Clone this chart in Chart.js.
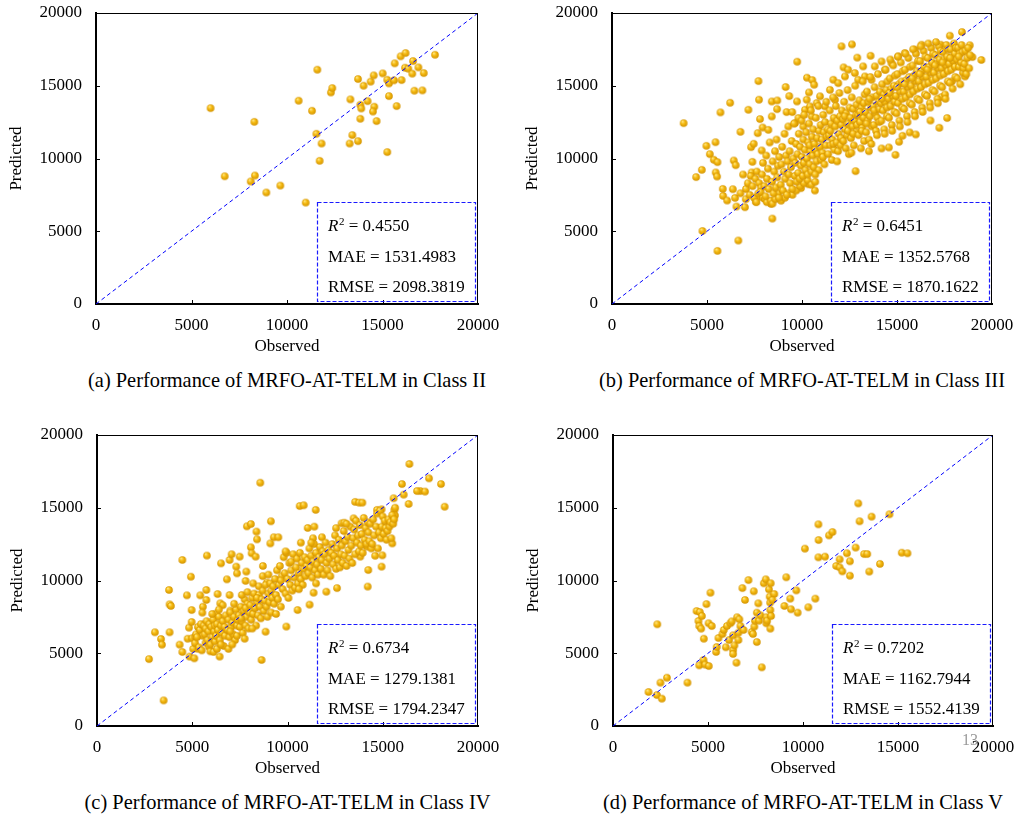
<!DOCTYPE html>
<html><head><meta charset="utf-8">
<script src="https://cdn.jsdelivr.net/npm/chart.js@4"></script>
<style>
body{margin:0;background:#fff;width:1016px;height:815px;position:relative;overflow:hidden;font-family:"Liberation Serif","Times New Roman",serif;}
.panel{position:absolute;width:500px;height:360px;}
.cap{position:absolute;font-size:20.4px;line-height:24px;white-space:nowrap;transform:translateX(-50%);color:#000;}
.pg{position:absolute;left:962px;top:731px;font-size:16px;color:#9a9a9a;}
</style></head><body>
<div class="panel" style="left:0;top:0"><canvas id="cA" width="500" height="360"></canvas></div>
<div class="panel" style="left:516px;top:0"><canvas id="cB" width="500" height="360"></canvas></div>
<div class="panel" style="left:1px;top:422px"><canvas id="cC" width="500" height="360"></canvas></div>
<div class="panel" style="left:517px;top:422px"><canvas id="cD" width="500" height="360"></canvas></div>
<div class="cap" id="capA" style="left:287px;top:368px"></div>
<div class="cap" id="capB" style="left:802px;top:368px"></div>
<div class="cap" id="capC" style="left:287.5px;top:790px"></div>
<div class="cap" id="capD" style="left:803px;top:790px"></div>
<div class="pg">13</div>
<script>
const axisTicks = [0, 5000, 10000, 15000, 20000];
const diagonal = [0, 20000];
const captions = [
  "(a) Performance of MRFO-AT-TELM in Class II",
  "(b) Performance of MRFO-AT-TELM in Class III",
  "(c) Performance of MRFO-AT-TELM in Class IV",
  "(d) Performance of MRFO-AT-TELM in Class V"
];
const metricsII  = ["0.4550", "1531.4983", "2098.3819"];
const metricsIII = ["0.6451", "1352.5768", "1870.1622"];
const metricsIV  = ["0.6734", "1279.1381", "1794.2347"];
const metricsV   = ["0.7202", "1162.7944", "1552.4139"];

// [Observed, Predicted]
const classII = [[6000,13460],[6740,8780],[8290,12520],[8320,8830],[8100,8420],[8920,7660],[9650,8140],[10610,13970],[10980,6970],[11310,13280],[11590,16100],[11540,11700],[11810,11030],[11710,9840],[12300,14540],[12370,14840],[13320,14060],[13280,11030],[13420,11610],[13720,15460],[13840,13690],[13890,13440],[13840,12730],[13720,11190],[14010,15000],[14220,13940],[14380,15280],[14540,15710],[14570,13560],[14500,13230],[14690,12570],[15010,15850],[15250,15410],[15340,15160],[15340,14290],[15250,10440],[15600,15370],[15640,16540],[15740,13600],[15950,17020],[16000,15390],[16210,17250],[16180,16240],[16350,16170],[16600,16700],[16560,15830],[16670,14660],[16880,16260],[17090,14680],[17160,15870],[17750,17130]];

const classIII = [
[3770,12430],[4430,8720],[4730,9220],[4760,5020],[4970,10870],[5150,10300],[5360,9910],[5450,11120],[5460,9040],[5550,9750],[5530,8760],[5550,3650],[5710,13170],[5830,7910],[5850,7430],[6060,7110],[6220,13830],[6360,7890],[6410,9860],[6510,9540],[6480,7290],[6550,6700],[6650,4360],[6760,11830],[6760,7610],[6900,8900],[7000,6650],[7040,7200],[7180,13350],[7320,10780],[7350,9040],[7390,9770],[7460,11010],[7570,7020],[7640,7340],[7670,11740],[7710,15320],[7740,14040],[7790,12710],[7880,10550],[7930,12130],[8230,11970],[8410,13920],[8410,12890],[8370,7060],[8370,6880],[8440,5870],[8700,13990],[8690,13390],[9140,14910],[9190,13190],[9490,13190],[9750,16650],[9740,13920],[10260,15550],[10540,15390],[10370,14540],[10640,15070],[10680,7800],[10340,8230],[9950,7960],[12080,17710],[12630,17840],[12190,16260],[12910,16930],[13610,17060],[12820,9130],[13520,10500],[14190,10690],[14570,10760],[14920,10250],[15110,11150],[15290,11560],[15670,11790],[15990,11650],[16290,17820],[16760,12610],[17230,12110],[17300,17820],[17640,12780],[17780,18440],[18420,18690],[18830,17780],[18970,16970],[19440,16770],[18510,16330],[18580,15640],[17890,15300],[17340,14220],
[9330,14290],[9630,12430],[9810,12780],[10070,12200],[10160,13350],[10250,14040],[10420,13580],[10510,12890],[10770,13810],[10950,14270],[11210,13580],[11470,14720],[11650,15410],[11740,14040],[11910,15180],[12260,15640],[12430,16100],[12780,15870],[12960,15410],[13220,16330],[13310,15640],[13660,15410],[13830,16330],[14190,16670],[14360,16100],[14710,16560],[15060,17020],[15410,17250],[15940,17480],
[7050,7900],[7150,8300],[7250,7500],[7300,8800],[7400,8100],[7480,7300],[7550,8600],[7620,9100],[7700,7600],[7750,8300],[7600,7000],[7850,8000],[7950,7300],[8050,7200],[8150,7000],[8350,7100],[8450,6900],[8600,7200],[8750,7600],[8900,7100],[9100,7300],[9300,7600],[9500,7500],[9700,7800],[9900,8100],[10100,8300],[10300,8500],[10500,8200],[10700,8400],
[7820,7700],[7900,8900],[7950,9700],[8020,8100],[8080,7400],[8120,10200],[8160,8600],[8210,9300],[8250,7900],[8300,11100],
[8420,8400],[8460,9800],[8500,7600],[8540,9100],[8580,10500],[8620,8000],[8660,11300],[8700,8700],[8740,9500],[8780,7300],[8800,10100],
[8880,8200],[8920,9600],[8960,10800],[9000,7800],[9040,9100],[9080,11700],[9120,8600],[9160,10200],[9200,7500],[9240,9800],[9280,12200],[9300,8900],
[9350,10500],[9380,8300],[9420,9400],[9460,11200],[9500,7900],[9540,10000],[9580,12400],[9620,8800],[9650,9700],[9700,11000],[9720,8400],
[9760,10300],[9800,9000],[9830,11700],[9870,8600],[9900,10800],[9940,9500],[9980,12600],[10000,10100],[10040,8800],[10070,11300],[10100,9700],[10120,13000],
[10150,10600],[10180,9200],[10220,11800],[10260,10000],[10300,8900],[10330,11100],[10370,12400],[10400,9600],[10440,10500],[10470,13300],[10500,9100],[10520,11500],[10400,10900],
[10560,10200],[10590,12000],[10620,9400],[10660,11000],[10700,10600],[10730,12800],[10760,9800],[10800,11400],[10830,10300],[10860,13600],[10880,9200],[10900,11900],[10700,8900],
[10950,10800],[10980,12300],[11010,9900],[11050,11300],[11080,10400],[11120,13000],[11150,11800],[11180,9600],[11220,12500],[11250,10900],[11280,13900],[11300,11500],[11100,10100],
[11350,12000],[11380,10300],[11420,11600],[11460,13300],[11500,10900],[11530,12400],[11570,9900],[11600,11300],[11640,14200],[11670,12800],[11700,10600],[11500,11900],[11650,11000],
[11750,12200],[11780,13600],[11820,11100],[11860,12600],[11900,10500],[11930,11700],[11970,14500],[12000,12900],[12030,10900],[12070,12300],[12100,13300],[11850,9800],[12050,11400],
[12150,12700],[12180,11200],[12220,13900],[12260,12000],[12300,10700],[12330,13100],[12370,11600],[12400,14700],[12440,12400],[12470,10300],[12500,13500],[12250,12900],[12420,11900],
[12550,12800],[12580,11400],[12620,14200],[12660,12200],[12700,13400],[12730,10900],[12770,12600],[12800,15000],[12840,11800],[12870,13700],[12900,12300],[12600,10400],[12850,13000],[12700,11700],
[12950,13000],[12980,11600],[13020,14000],[13060,12500],[13100,10700],[13130,13500],[13170,12100],[13200,15300],[13240,12800],[13270,11200],[13300,14400],[13050,13200],[13250,13800],[13150,11900],
[13350,13200],[13380,11800],[13420,14600],[13460,12600],[13500,13900],[13530,11300],[13570,12900],[13600,15600],[13640,13500],[13670,12200],[13700,14200],[13400,12400],[13550,14100],[13650,11000],
[13750,13600],[13780,12300],[13820,14900],[13860,13100],[13900,11900],[13930,14300],[13970,12800],[14000,15800],[14040,13900],[14070,12500],[14100,14600],[13800,13300],[13950,11600],[14080,13400],
[14150,13800],[14180,12600],[14220,15100],[14260,13300],[14300,14400],[14330,12000],[14370,13900],[14400,16100],[14440,14700],[14470,12900],[14500,15300],[14200,14100],[14350,11700],[14480,13500],
[14550,14100],[14580,12800],[14620,15500],[14660,13600],[14700,14800],[14730,12300],[14770,14300],[14800,16400],[14840,15000],[14870,13200],[14900,15700],[14600,14500],[14750,11900],[14880,13900],[14650,16800],
[14950,14300],[14980,13100],[15020,15800],[15060,13800],[15100,15100],[15130,12600],[15170,14600],[15200,16600],[15240,15300],[15270,13500],[15300,16000],[15000,14900],[15150,12200],[15280,14100],[15050,17000],
[15350,14600],[15380,13400],[15420,16100],[15460,14200],[15500,15400],[15530,12900],[15570,14900],[15600,16900],[15640,15600],[15670,13800],[15700,16300],[15400,15100],[15550,12500],[15680,14400],[15450,17200],
[15750,15000],[15780,13700],[15820,16400],[15860,14600],[15900,15700],[15930,13200],[15970,15300],[16000,17200],[16040,16000],[16070,14100],[16100,16700],[15800,15500],[15950,12900],[16080,14800],[15850,17500],
[16150,15300],[16180,14000],[16220,16700],[16260,14900],[16300,16000],[16330,13500],[16370,15600],[16400,17400],[16440,16300],[16470,14400],[16500,17000],[16200,15800],[16350,13200],[16480,15100],[16250,17700],
[16550,15600],[16580,14300],[16620,16900],[16660,15200],[16700,16300],[16730,13800],[16770,15900],[16800,17600],[16840,16600],[16870,14700],[16900,17200],[16600,16100],[16750,13500],[16880,15400],[16650,17900],
[16950,15900],[16980,14600],[17020,17100],[17060,15500],[17100,16500],[17130,14100],[17170,16200],[17200,17700],[17240,16800],[17270,15000],[17300,17400],[17000,16400],[17150,13800],[17280,15700],[17050,18000],
[17350,16200],[17380,14900],[17420,17300],[17460,15800],[17500,16800],[17530,14400],[17570,16400],[17600,17800],[17640,17000],[17670,15300],[17700,17500],[17400,16600],[17550,14100],[17680,16000],
[17750,16500],[17780,15200],[17820,17500],[17860,16100],[17900,17000],[17930,14800],[17970,16700],[18000,17900],[18040,17200],[18070,15600],[18100,17600],[17800,16900],[18050,16300],
[18150,16800],[18180,15500],[18220,17600],[18260,16300],[18300,17200],[18330,15100],[18370,16600],[18400,17800],[18440,17300],[18470,15900],[18500,16200],[18250,17000],
[18550,16500],[18600,17400],[18650,15800],[18700,16900],[18750,17600],[18800,16200],[18850,17100]
];

const classIV = [
[2730,4600],[3040,6440],[3360,5980],[3410,5590],[3500,1760],[3780,9350],[3810,8360],[3880,8250],[3810,6440],[4340,5590],[4480,11410],[4480,5090],[4720,8980],[4930,10260],[4970,7970],[4860,4770],[4830,6760],[4970,7150],[4760,6000],[5000,6030],[5160,6140],[5110,4650],[5280,5310],[5420,8980],[5560,8200],[5530,7790],[5740,9350],[5770,11710],[5740,8660],[5640,7010],[5600,6410],[5700,5720],[5880,5450],[5950,5130],[6120,5090],[6330,9070],[6440,4770],[6470,8430],[6510,11180],[6260,7740],[6960,11410],[7070,11800],[6960,9000],[7000,7930],[6820,10080],[7490,11640],[7310,10950],[7350,10490],[7870,13720],[8080,13880],[7840,10610],[7800,9970],[8080,12280],[8120,11870],[8330,11640],[8370,13360],[8400,12830],[8570,16720],[8710,11000],[8640,4540],[8850,6480],[9130,14070],[8920,9850],[9280,12970],[9520,12970],[9100,12550],[9940,6830],[10530,7970],[10640,15120],[10850,15170],[11480,14850],[11060,13610],[11410,13700],[11160,8340],[11370,9160],[11340,12900],[11810,12970],[12040,9230],[12600,9480],[12840,13930],[12980,13970],[13550,15400],[13760,15350],[13930,15350],[13470,14270],[13820,11640],[14210,9580],[14240,10720],[14170,12330],[14700,14850],[14940,14890],[14940,10950],[14980,11730],[15500,12550],[15570,15650],[15610,14850],[15640,14480],[15330,13970],[16010,16630],[16100,15900],[16360,15260],[16400,18010],[16970,16150],[17220,16110],[17430,17020],[18060,16630],[18250,15070],[16800,16150],
[5050,5300],[5150,5700],[5200,6300],[5300,6800],[5350,5400],[5400,6600],[5450,7000],[5500,5200],[5550,6200],[5600,6900],[5250,6100],
[5650,6300],[5700,6700],[5750,7200],[5800,5900],[5850,6500],[5900,7000],[5950,5600],[6000,6800],[6050,6100],[6100,7300],[6150,6500],[6200,5800],[6050,7700],[6180,6900],
[6250,6200],[6300,7000],[6350,6600],[6400,7500],[6450,5900],[6500,6900],[6550,6400],[6600,7200],[6650,5500],[6700,6800],[6750,7600],[6300,5300],[6600,8300],[6720,6200],[6400,8000],[6500,5600],
[6850,6600],[6900,7300],[6950,6100],[7000,7800],[7050,6800],[7100,7100],[7150,6300],[7200,7500],[7250,5900],[7300,8000],[7350,6900],[7400,7300],[6900,5300],[7100,5600],[7200,8400],[7350,6200],[7000,6500],
[7450,7600],[7500,6800],[7550,8200],[7600,7200],[7650,6400],[7700,7900],[7750,8700],[7800,6900],[7850,7500],[7900,8400],[7950,6700],[8000,7800],[7600,9000],[7750,6000],[7900,9200],[7550,7400],[7800,8100],
[8050,8300],[8100,7300],[8150,8800],[8200,7700],[8250,9100],[8300,8100],[8350,6900],[8400,8500],[8450,7600],[8500,9000],[8550,8200],[8600,7400],[8200,9800],[8400,8800],[8150,6700],[8500,9600],
[8650,8700],[8700,9300],[8750,7900],[8800,8600],[8850,9700],[8900,8200],[8950,7500],[9000,9100],[9050,8500],[9100,9800],[9150,7800],[9200,8800],[8700,10300],[9000,10400],[9150,9300],
[9250,9600],[9300,8400],[9350,10100],[9400,9000],[9450,10700],[9500,8700],[9550,9700],[9600,11000],[9650,8200],[9700,10300],[9750,9400],[9800,11600],[9400,7700],[9650,10000],
[9850,10500],[9900,9100],[9950,11900],[10000,10100],[10050,8800],[10100,11200],[10150,9700],[10200,10700],[10250,9300],[10300,11800],[10350,10200],[10400,9500],[9900,12000],[10200,11300],
[10450,10900],[10500,11500],[10550,9800],[10600,10500],[10650,11900],[10700,10100],[10750,11200],[10800,9700],[10850,10800],[10900,11600],[10950,10300],[11000,11000],[10700,12600],[10600,9400],
[11050,11400],[11100,10500],[11150,12200],[11200,10900],[11250,11700],[11300,10200],[11350,11300],[11400,12500],[11450,10700],[11500,11900],[11550,11100],[11600,10400],[11250,12600],[11500,9800],
[11650,11600],[11700,12300],[11750,10800],[11800,11400],[11850,12000],[11900,10400],[11950,11800],[12000,12600],[12050,11200],[12100,10700],[12150,12100],[12200,11500],
[12250,10300],[12300,11900],[12350,12500],[12400,11100],[12450,11700],[12500,13100],[12550,10800],[12600,12200],[12650,11400],[12700,12800],[12750,10900],[12800,11800],[12550,13600],
[12850,12400],[12900,11200],[12950,13400],[13000,11700],[13050,12700],[13100,11000],[13150,13000],[13200,12100],[13250,11500],[13300,13700],[13350,12400],[13400,11200],[13100,13900],
[13450,12900],[13500,13500],[13550,11800],[13600,14100],[13650,12600],[13700,13100],[13750,12000],[13800,13800],[13850,12400],[13900,13200],[13950,11900],[14000,14300],
[14050,12800],[14100,13600],[14150,12500],[14200,14000],[14250,13300],[14300,12700],[14350,13900],[14400,12200],[14450,12500],[14500,14200],[14550,13100],[14600,11700],
[14650,13700],[14700,14600],[14750,12200],[14800,13300],[14850,14800],[14900,12900],[14950,13700],[15000,14400],[15050,13200],[15100,14100],[15150,13600],[15200,12800],
[15250,13400],[15300,14200],[15350,13700],[15400,14000],[15450,12900],[15500,14500],[15550,13900],[15600,14200],[15650,15000]
];

const classV = [[1870,2340],[2310,2130],[2330,6990],[2500,2980],[2570,1880],[2840,3320],[3920,2980],[4400,7900],[4570,7830],[4500,7220],[4540,6870],[4640,6690],[4680,7560],[4780,6000],[4920,8380],[4540,4170],[4760,4540],[4850,4220],[5040,4120],[5030,7060],[5130,9160],[5200,6870],[5430,5090],[5460,5430],[5550,6050],[5760,6320],[5830,6600],[5940,5410],[6000,6870],[6110,5910],[6180,7060],[6250,7190],[6320,6230],[6320,5220],[6320,4950],[6390,5540],[6500,4350],[6530,7470],[6600,6410],[6600,5910],[6650,7330],[6710,6870],[6810,9480],[6870,6600],[6950,8660],[7130,10030],[7300,6460],[7370,6320],[7410,9260],[7440,6830],[7470,7240],[7570,7790],[7570,5770],[7650,8430],[7690,7240],[7760,7610],[7830,4030],[7940,9810],[8040,10080],[8070,7470],[8070,7060],[8110,7240],[8210,9390],[8250,8890],[8270,8480],[8300,9810],[8280,7970],[8320,7560],[8280,6690],[8490,9070],[8390,8660],[9020,8250],[9120,10220],[9330,8750],[9370,8020],[9650,9320],[9720,7790],[10100,12190],[10280,8160],[10650,8750],[10810,13860],[10820,12780],[10810,11590],[11160,11640],[11370,13100],[11550,13330],[11750,11000],[11930,11450],[11930,10900],[12070,10630],[12310,11870],[12470,11320],[12470,10330],[12770,12260],[12910,15300],[12980,14070],[13220,11820],[13380,11820],[13490,10610],[13610,14390],[14050,11140],[14550,14550],[15200,11910],[15500,11870]];

Chart.defaults.font.family = '"Liberation Serif", "Times New Roman", serif';
Chart.defaults.color = '#000';

function makeBall(r) {
  const s = 10, c = document.createElement('canvas');
  c.width = s; c.height = s;
  const g = c.getContext('2d'), cx = s / 2, cy = s / 2;
  const gr = g.createRadialGradient(cx - r * 0.35, cy - r * 0.45, r * 0.1, cx, cy, r);
  gr.addColorStop(0, '#FFE680');
  gr.addColorStop(0.45, '#F5BA10');
  gr.addColorStop(1, '#D39300');
  g.fillStyle = gr;
  g.beginPath(); g.arc(cx, cy, r, 0, Math.PI * 2); g.fill();
  return c;
}
const ball = makeBall(3.8);

const framePlugin = {
  id: 'frame',
  afterDraw(chart) {
    const a = chart.chartArea, ctx = chart.ctx;
    const xs = chart.scales.x, ys = chart.scales.y;
    const m = chart.options.plugins.frame.metrics;
    ctx.save();
    ctx.strokeStyle = '#000'; ctx.lineWidth = 1;
    ctx.beginPath();
    ctx.moveTo(a.left, a.top + 0.5); ctx.lineTo(a.right, a.top + 0.5);
    ctx.moveTo(a.right - 0.5, a.top); ctx.lineTo(a.right - 0.5, a.bottom);
    axisTicks.slice(1, -1).forEach(v => {
      const px = Math.round(xs.getPixelForValue(v)) + 0.5;
      ctx.moveTo(px, a.bottom); ctx.lineTo(px, a.bottom - 4);
      const py = Math.round(ys.getPixelForValue(v)) + 0.5;
      ctx.moveTo(a.left, py); ctx.lineTo(a.left + 4, py);
    });
    ctx.stroke();
    // statistics box
    const w = 158, h = 99, L = Math.round(a.right - 3 - w), T = Math.round(a.bottom - 3 - h);
    ctx.beginPath();
    ctx.strokeStyle = '#1a1aff'; ctx.lineWidth = 1.2; ctx.setLineDash([4, 2]);
    ctx.rect(L + 0.5, T + 0.5, w, h);
    ctx.stroke();
    ctx.setLineDash([]);
    ctx.fillStyle = '#000'; ctx.textBaseline = 'alphabetic'; ctx.textAlign = 'left';
    const fam = '"Liberation Serif", "Times New Roman", serif';
    let x = L + 11; const y = T + 29;
    ctx.font = 'italic 17px ' + fam; ctx.fillText('R', x, y); x += ctx.measureText('R').width;
    ctx.font = '11px ' + fam; ctx.fillText('2', x + 0.5, y - 6); x += ctx.measureText('2').width + 0.5;
    ctx.font = '17px ' + fam; ctx.fillText(' = ' + m[0], x, y);
    ctx.fillText('MAE = ' + m[1], L + 11, T + 60);
    ctx.fillText('RMSE = ' + m[2], L + 11, T + 90);
    ctx.restore();
  }
};

function buildChart(id, points, metrics, rightPad) {
  const tickFont = { size: 17 };
  return new Chart(document.getElementById(id), {
    type: 'scatter',
    data: {
      datasets: [
        { type: 'line', data: diagonal.map(v => ({ x: v, y: v })), borderColor: '#0000FF', borderWidth: 1, borderDash: [4, 3], pointRadius: 0, fill: false, order: 0 },
        { data: points.map(([x, y]) => ({ x, y })), pointStyle: ball, pointRadius: 4, order: 1 }
      ]
    },
    options: {
      responsive: false, animation: false, events: [],
      layout: { autoPadding: false, padding: { top: 13, right: rightPad, left: 0, bottom: 0 } },
      plugins: { legend: { display: false }, tooltip: { enabled: false }, frame: { metrics } },
      scales: {
        x: {
          type: 'linear', min: 0, max: 20000,
          afterBuildTicks: s => { s.ticks = axisTicks.map(v => ({ value: v })); },
          ticks: { autoSkip: false, maxRotation: 0, font: tickFont, color: '#000', padding: 11, callback: v => String(v) },
          grid: { display: false, drawTicks: false },
          border: { display: true, color: '#000', width: 2 },
          title: { display: true, text: 'Observed', font: { size: 17 }, color: '#000', padding: { top: 0, bottom: 3 } },
          afterFit: s => { s.height = 56; s.paddingLeft = 0; s.paddingRight = 0; }
        },
        y: {
          type: 'linear', min: 0, max: 20000,
          afterBuildTicks: s => { s.ticks = axisTicks.map(v => ({ value: v })); },
          ticks: { autoSkip: false, font: tickFont, color: '#000', padding: 14, callback: v => String(v) },
          grid: { display: false, drawTicks: false },
          border: { display: true, color: '#000', width: 2 },
          title: { display: true, text: 'Predicted', font: { size: 17 }, color: '#000', padding: { top: 6, bottom: 0 } },
          afterFit: s => { s.width = 96; s.paddingTop = 0; s.paddingBottom = 0; }
        }
      }
    },
    plugins: [framePlugin]
  });
}

buildChart('cA', classII, metricsII, 22);
buildChart('cB', classIII, metricsIII, 24);
buildChart('cC', classIV, metricsIV, 23);
buildChart('cD', classV, metricsV, 24);
['capA', 'capB', 'capC', 'capD'].forEach((id, i) => { document.getElementById(id).textContent = captions[i]; });
</script>
</body></html>
